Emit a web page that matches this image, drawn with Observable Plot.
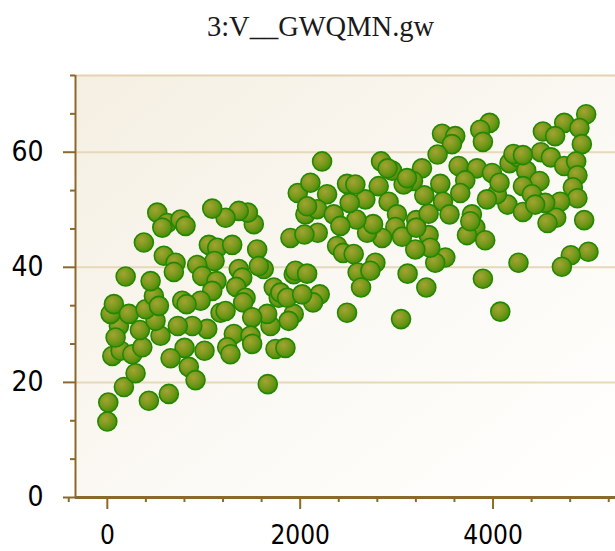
<!DOCTYPE html>
<html>
<head>
<meta charset="utf-8">
<script src="https://cdn.jsdelivr.net/npm/d3@7"></script>
<script src="https://cdn.jsdelivr.net/npm/@observablehq/plot@0.6"></script>
<style>
  body { margin: 0; background: #ffffff; width: 615px; height: 551px; overflow: hidden; }
  #title { height: 60px; box-sizing: border-box; padding-top: 13px; text-align: center;
           font-family: "Liberation Serif", "DejaVu Serif", serif; font-size: 28.5px; line-height: 1;
           color: #1a1a1a; padding-left: 26px; }
</style>
</head>
<body>
<div id="title">3:V__GWQMN.gw</div>
<div id="chart"></div>
<script>
const title = "3:V__GWQMN.gw";
const xValues = [
  1975,1899,1933,1951,1933,1881,1692,1658,1744,1847,1664,1554,1622,1571,1726,1778,1795,1519,1457,1363,
  1226,1088,1053,1140,1295,1112,932,984,1132,1088,967,777,822,1363,1399,1336,1433,1409,1174,1226,
  1502,1036,881,731,1312,1485,1502,1243,1277,1008,801,656,845,915,638,431,172,293,10,0,
  52,138,259,363,338,552,500,120,86,34,68,224,397,483,535,449,190,379,586,708,
  690,518,622,759,811,570,1865,
  4966,4738,4896,4921,4517,4644,4496,4600,4738,4862,4875,4828,4875,4696,4655,4565,4945,4989,4807,4714,
  4264,3895,4075,3964,3867,3895,3471,3608,3574,3425,3643,3833,3989,4171,4264,4212,4344,4482,4310,4403,
  4150,4310,4541,4040,3937,4067,3712,3660,3453,3481,3549,3781,3816,3730,3919,3505,3401,3332,3349,3204,
  3194,3332,3287,3263,3170,3073,2953,2839,2814,2917,3004,2987,3056,2849,2694,2756,2583,2676,2513,2486,
  2279,2106,2054,2176,2348,2417,2182,2044,2383,2445,2555,2780,2596,2631,2728,3114,3308,2486,3046,2072,
  2203,2134,2020,2227,2572,2072,2907,3108,3204,3764,4310,4437
];
const yValues = [
  52.9,45.1,38.8,39.4,31.9,30.7,29.8,31.9,25.8,26.0,19.7,43.1,39.7,40.2,36.5,34.7,35.6,47.5,49.5,49.8,
  48.6,50.2,43.9,43.4,43.9,41.1,40.4,38.5,37.6,35.9,34.2,34.2,33.6,39.7,38.2,36.6,34.7,33.9,32.1,32.4,
  31.3,29.3,29.8,29.8,28.4,28.1,26.7,26.1,24.9,25.5,26.0,24.2,22.7,20.4,18.0,16.8,19.2,21.6,16.5,13.2,
  24.6,25.5,24.9,26.1,29.1,28.1,30.7,29.8,27.8,31.9,33.6,31.9,32.7,35.0,33.3,37.6,38.4,44.3,42.0,40.8,
  39.2,49.5,47.7,48.3,47.2,46.9,34.7,
  66.6,65.1,64.2,61.4,63.6,62.8,60.0,59.1,57.6,58.4,56.0,53.9,52.0,51.4,48.6,47.7,48.2,42.7,42.1,40.1,
  40.8,38.0,32.3,65.1,63.9,61.8,63.2,62.8,61.4,59.6,57.6,57.2,56.4,58.1,59.1,59.7,56.8,55.0,54.1,52.7,
  50.9,49.6,51.2,52.7,51.8,54.7,55.1,52.9,54.5,51.4,49.2,49.2,46.9,45.6,44.7,41.7,40.8,45.6,43.4,48.2,
  43.1,49.3,52.5,57.2,55.0,54.4,56.8,58.4,54.1,51.4,49.2,47.0,45.3,45.1,46.0,47.5,48.3,51.8,51.2,54.5,
  52.7,54.7,49.2,50.1,49.2,47.2,46.0,45.7,43.7,42.5,42.3,40.8,39.1,36.5,39.4,38.9,36.5,32.1,31.0,38.9,
  35.3,33.9,35.3,58.4,54.4,50.6,57.2,55.5,46.9,48.0,59.5,50.9
];
const yMajorTicks = [0, 20, 40, 60];
const yMinorTicks = [20/3, 40/3, 80/3, 100/3, 140/3, 160/3, 200/3, 220/3];
const xMajorTicks = [0, 2000, 4000];
const xMinorTicks = [-400, 400, 800, 1200, 1600, 2400, 2800, 3200, 3600, 4400, 4800, 5200];
const xDomain = [-330, 5270];
const yDomain = [0, 73.33];

const points = xValues.map((x, i) => ({x, y: yValues[i]}));

const axisColor = "#8a6a2c";
const plot = Plot.plot({
  width: 615,
  height: 491,
  marginLeft: 75,
  marginRight: 0,
  marginTop: 15,
  marginBottom: 54,
  x: {domain: xDomain, axis: null},
  y: {domain: yDomain, axis: null},
  style: {
    background: "transparent",
    fontFamily: "'DejaVu Sans Condensed', 'DejaVu Sans', sans-serif",
    fontStretch: "condensed",
    fontSize: "28px",
    color: "#000",
    overflow: "visible"
  },
  marks: [
    Plot.frame({fill: "url(#bgGrad)", stroke: null}),
    Plot.gridY(yMajorTicks.filter(d => d > 0), {stroke: "#e6d8ba", strokeOpacity: 1, strokeWidth: 2}),
    Plot.ruleY([yDomain[1]], {stroke: "#e4d3b2", strokeWidth: 2}),
    Plot.dot(points, {x: "x", y: "y", r: 9.5, fill: "url(#dotGrad)", stroke: "#238800", strokeWidth: 1.6}),
    Plot.ruleX([xDomain[0]], {stroke: axisColor, strokeWidth: 2}),
    Plot.axisY(yMinorTicks, {tickSize: 5, stroke: axisColor, strokeWidth: 2, tickFormat: () => "", label: null}),
    Plot.axisY(yMajorTicks, {tickSize: 12, tickPadding: 20, stroke: axisColor, strokeWidth: 2, label: null, fill: "#000", tickFormat: d3.format("d")}),
    Plot.axisX(xMinorTicks, {tickSize: 5, stroke: axisColor, strokeWidth: 2, tickFormat: () => "", label: null}),
    Plot.axisX(xMajorTicks, {tickSize: 12, tickPadding: 16, stroke: axisColor, strokeWidth: 2, label: null, fill: "#000", fontSize: 26, tickFormat: d3.format("d")}),
    Plot.ruleY([0], {stroke: axisColor, strokeWidth: 3})
  ]
});

const ns = "http://www.w3.org/2000/svg";
const defs = document.createElementNS(ns, "defs");
defs.innerHTML = `
  <linearGradient id="bgGrad" x1="0" y1="0" x2="1" y2="1">
    <stop offset="0" stop-color="#f5efe2"/>
    <stop offset="0.55" stop-color="#fbf9f4"/>
    <stop offset="1" stop-color="#fffffe"/>
  </linearGradient>
  <radialGradient id="dotGrad" cx="0.38" cy="0.35" r="0.7">
    <stop offset="0" stop-color="#a3a432"/>
    <stop offset="0.55" stop-color="#76981b"/>
    <stop offset="1" stop-color="#448c06"/>
  </radialGradient>`;
plot.insertBefore(defs, plot.firstChild);
document.getElementById("chart").appendChild(plot);
</script>
</body>
</html>
